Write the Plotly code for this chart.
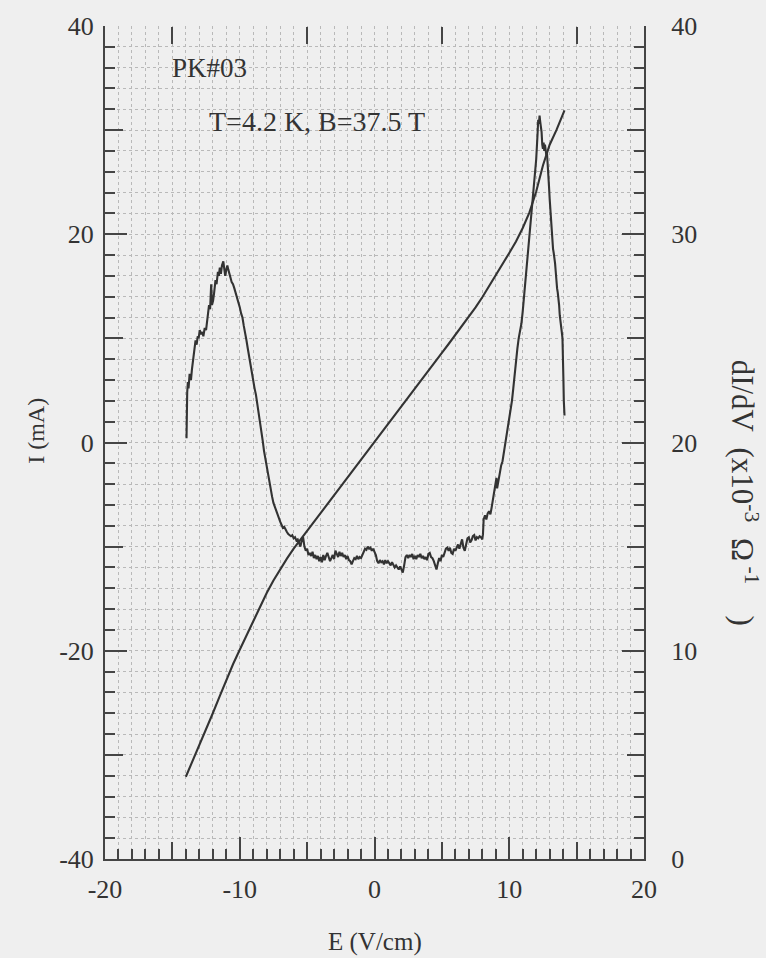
import plotly.graph_objects as go

# ---- I-V characteristic (left axis, mA) ----
E_iv = [-14.0, -13.5, -13.0, -12.5, -12.0, -11.5, -11.0, -10.5, -10.0, -9.5,
        -9.0, -8.5, -8.0, -7.5, -7.0, -6.5, -6.0, -5.5, -5.0, -4.5,
        -4.0, -3.5, -3.0, -2.5, -2.0, -1.5, -1.0, -0.5, 0.0, 0.5,
        1.0, 1.5, 2.0, 2.5, 3.0, 3.5, 4.0, 4.5, 5.0, 5.5,
        6.0, 6.5, 7.0, 7.5, 8.0, 8.5, 9.0, 9.5, 10.0, 10.5,
        11.0, 11.5, 12.0, 12.5, 13.0, 13.5, 14.0, 14.1]
I_mA = [-32.1, -30.6, -29.1, -27.6, -26.0, -24.4, -22.8, -21.3, -19.9, -18.5,
        -17.15, -15.75, -14.45, -13.25, -12.15, -11.15, -10.2, -9.35, -8.5, -7.65,
        -6.8, -5.95, -5.1, -4.25, -3.4, -2.55, -1.7, -0.85, 0.0, 0.86,
        1.72, 2.58, 3.44, 4.3, 5.16, 6.02, 6.88, 7.74, 8.6, 9.46,
        10.32, 11.18, 12.05, 12.97, 13.95, 14.98, 16.02, 17.1, 18.2, 19.3,
        20.6, 22.1, 24.1, 26.6, 28.6, 30.0, 31.5, 31.9]

# ---- differential conductance dI/dV (right axis, 1e-3 / Ohm) ----
E_g = [-13.95, -13.93, -13.9, -13.85, -13.8, -13.72, -13.62, -13.55, -13.45, -13.35,
       -13.28, -13.2, -13.12, -13.05, -12.97, -12.88, -12.78, -12.7, -12.6, -12.5,
       -12.42, -12.35, -12.28, -12.2, -12.12, -12.06, -11.98, -11.9, -11.8, -11.72,
       -11.62, -11.55, -11.48, -11.4, -11.32, -11.22, -11.15, -11.08, -11.0, -10.92,
       -10.85, -10.76, -10.68, -10.6, -10.5, -10.4, -10.3, -10.2, -10.1, -10.0,
       -9.9, -9.8, -9.7, -9.6, -9.5, -9.4, -9.3, -9.2, -9.1, -9.0,
       -8.9, -8.8, -8.7, -8.6, -8.5, -8.4, -8.3, -8.2, -8.1, -8.0,
       -7.9, -7.8, -7.7, -7.6, -7.5, -7.4, -7.3, -7.2, -7.1, -7.0,
       -6.9, -6.8, -6.7, -6.6, -6.5, -6.4, -6.3, -6.2, -6.1, -6.0,
       -5.9, -5.8, -5.7, -5.6, -5.5, -5.4, -5.3, -5.2, -5.1, -5.0,
       -4.9, -4.8, -4.7, -4.6, -4.5, -4.4, -4.3, -4.2, -4.1, -4.0,
       -3.9, -3.8, -3.7, -3.6, -3.5, -3.4, -3.3, -3.2, -3.1, -3.0,
       -2.9, -2.8, -2.7, -2.6, -2.5, -2.4, -2.3, -2.2, -2.1, -2.0,
       -1.9, -1.8, -1.7, -1.6, -1.5, -1.4, -1.3, -1.2, -1.1, -1.0,
       -0.9, -0.8, -0.7, -0.6, -0.5, -0.4, -0.3, -0.2, -0.1, 0.0,
       0.1, 0.2, 0.3, 0.4, 0.5, 0.6, 0.7, 0.8, 0.9, 1.0,
       1.1, 1.2, 1.3, 1.4, 1.5, 1.6, 1.7, 1.8, 1.9, 2.0,
       2.1, 2.2, 2.3, 2.4, 2.5, 2.6, 2.7, 2.8, 2.9, 3.0,
       3.1, 3.2, 3.3, 3.4, 3.5, 3.6, 3.7, 3.8, 3.9, 4.0,
       4.1, 4.2, 4.3, 4.4, 4.5, 4.6, 4.7, 4.8, 4.9, 5.0,
       5.1, 5.2, 5.3, 5.4, 5.5, 5.6, 5.7, 5.8, 5.9, 6.0,
       6.1, 6.2, 6.3, 6.4, 6.5, 6.6, 6.7, 6.8, 6.9, 7.0,
       7.1, 7.2, 7.3, 7.4, 7.5, 7.6, 7.7, 7.8, 7.9, 8.0,
       8.05, 8.1, 8.2, 8.3, 8.4, 8.5, 8.6, 8.7, 8.8, 8.9,
       9.0, 9.05, 9.1, 9.2, 9.3, 9.4, 9.5, 9.6, 9.7, 9.8,
       9.9, 10.0, 10.1, 10.2, 10.3, 10.4, 10.5, 10.6, 10.7, 10.8,
       10.9, 11.0, 11.1, 11.2, 11.3, 11.4, 11.5, 11.6, 11.7, 11.8,
       11.9, 12.0, 12.1, 12.15, 12.2, 12.25, 12.3, 12.35, 12.4, 12.45,
       12.5, 12.55, 12.6, 12.65, 12.7, 12.75, 12.8, 12.85, 12.9, 12.95,
       13.0, 13.05, 13.1, 13.15, 13.2, 13.25, 13.3, 13.35, 13.4, 13.45,
       13.5, 13.55, 13.6, 13.65, 13.7, 13.75, 13.8, 13.85, 13.9, 13.95,
       14.0, 14.02, 14.05, 14.1]
G = [20.2, 21.5, 22.4, 22.9, 22.6, 23.3, 23.0, 23.5, 24.1, 24.6,
     24.9, 24.7, 25.1, 25.0, 25.4, 25.2, 25.3, 25.1, 25.5, 25.4,
     25.9, 26.1, 26.6, 26.4, 27.6, 26.6, 26.8, 27.2, 27.8, 27.6,
     28.2, 28.0, 28.4, 28.1, 28.5, 28.7, 28.2, 28.0, 28.3, 28.5,
     28.3, 28.0, 27.9, 27.7, 27.6, 27.4, 27.2, 26.9, 26.7, 26.5,
     26.2, 26.0, 25.6, 25.3, 24.9, 24.5, 24.1, 23.6, 23.3, 22.9,
     22.6, 22.3, 21.9, 21.5, 21.0, 20.6, 20.1, 19.6, 19.2, 18.8,
     18.4, 18.1, 17.7, 17.4, 17.1, 16.9, 16.7, 16.5, 16.3, 16.2,
     16.05, 15.9, 15.95, 15.8, 15.7, 15.6, 15.55, 15.5, 15.55, 15.4,
     15.45, 15.3, 15.35, 15.2, 15.0, 15.3, 15.45, 15.0, 14.8, 14.9,
     14.6, 14.7, 14.55, 14.75, 14.45, 14.6, 14.4, 14.55, 14.3, 14.5,
     14.25, 14.6, 14.35, 14.55, 14.7, 14.5, 14.3, 14.45, 14.6, 14.4,
     14.8, 14.65, 14.5, 14.75, 14.55, 14.7, 14.5, 14.6, 14.4, 14.55,
     14.35, 14.3, 14.15, 14.3, 14.45, 14.4, 14.55, 14.4, 14.5, 14.45,
     14.6, 14.75, 14.9, 14.85, 15.0, 14.9, 14.95, 14.8, 14.9, 14.75,
     14.6, 14.3, 14.2, 14.35, 14.25, 14.3, 14.15, 14.35, 14.2, 14.3,
     14.2, 14.1, 14.25, 14.15, 14.0, 14.1, 14.0, 13.9, 14.05, 13.9,
     13.75, 14.1, 14.5, 14.6, 14.45, 14.6, 14.5, 14.65, 14.4, 14.55,
     14.4, 14.6, 14.5, 14.65, 14.45, 14.55, 14.4, 14.5, 14.35, 14.65,
     14.7, 14.5, 14.45, 14.3, 14.1, 13.9, 14.2, 14.45, 14.3, 14.6,
     14.5, 14.75, 14.9, 14.95, 14.8, 14.95, 14.7, 14.65, 14.9, 14.8,
     14.95, 15.1, 14.9, 15.2, 15.35, 14.95, 14.8, 15.1, 15.4, 15.45,
     15.2, 15.3, 15.5, 15.55, 15.3, 15.45, 15.4, 15.5, 15.45, 15.35,
     15.6, 16.3, 16.5, 16.3, 16.6, 16.7, 16.55, 16.9, 17.3, 17.6,
     17.9, 18.3, 17.8, 18.2, 18.5, 18.9, 19.1, 19.5, 19.9, 20.3,
     20.8, 21.2, 21.5, 22.0, 22.6, 23.3, 23.9, 24.5, 25.0, 25.3,
     25.7, 26.3, 27.0, 27.7, 28.5, 29.1, 29.7, 30.6, 31.3, 32.0,
     32.8, 33.6, 34.8, 35.5, 35.3, 35.7, 35.4, 35.2, 34.9, 34.3,
     34.1, 34.4, 34.0, 34.3, 34.0, 33.8, 33.9, 33.5, 33.0, 32.3,
     31.7, 31.2, 30.6, 30.0, 29.6, 29.3, 29.1, 28.9, 28.6, 28.2,
     27.5, 27.4, 27.2, 27.0, 26.6, 26.1, 25.9, 25.6, 25.3, 25.0,
     24.2, 23.0, 22.0, 21.3]

# ---- axis ticks ----
x_major = [-20, -10, 0, 10, 20]
x_major_text = ["-20", "-10", "0", "10", "20"]
x_mid = [-15, -5, 5, 15]
yl_major = [-40, -20, 0, 20, 40]
yl_major_text = ["-40", "-20", "0", "20", "40"]
yl_mid = [-30, -10, 10, 30]
yr_major = [0, 10, 20, 30, 40]
yr_major_text = ["0", "10", "20", "30", "40"]
yr_mid = [5, 15, 25, 35]

FONT = "Liberation Serif, Times New Roman, serif"
INK = "#333333"
FRAME = "#454545"
GRID = "#b9b9b9"
BG = "#efefef"

fig = go.Figure()
fig.add_trace(go.Scatter(x=E_iv, y=I_mA, mode="lines", xaxis="x", yaxis="y",
                         line=dict(color=INK, width=2.1), showlegend=False))
fig.add_trace(go.Scatter(x=E_g, y=G, mode="lines", xaxis="x", yaxis="y2",
                         line=dict(color=INK, width=2.1), showlegend=False))
# empty traces that carry the extra tick-only axes
fig.add_trace(go.Scatter(x=[None], y=[None], xaxis="x3", yaxis="y3",
                         showlegend=False, hoverinfo="skip"))
fig.add_trace(go.Scatter(x=[None], y=[None], xaxis="x4", yaxis="y4",
                         showlegend=False, hoverinfo="skip"))

tickfont = dict(family=FONT, size=26, color=INK)
common = dict(showline=True, linecolor=FRAME, linewidth=2, ticks="inside",
              tickcolor=FRAME, tickwidth=2, zeroline=False)
blank = dict(showline=False, showgrid=False, zeroline=False, ticks="inside",
             tickcolor=FRAME, tickwidth=2, showticklabels=False, ticklen=17)

fig.update_layout(
    width=766, height=958,
    margin=dict(l=105, r=122, t=24, b=99),
    paper_bgcolor=BG, plot_bgcolor=BG,
    font=dict(family=FONT, color=INK),
    xaxis=dict(range=[-20, 20], tickmode="array", tickvals=x_major,
               ticktext=x_major_text, ticklen=22, side="bottom",
               anchor="y", tickfont=tickfont, ticklabelstandoff=6,
               showgrid=True, gridcolor=GRID, griddash="dot", gridwidth=1,
               minor=dict(dtick=1, tick0=0, ticklen=10, ticks="inside",
                          tickcolor=FRAME, tickwidth=1.5, showgrid=True,
                          gridcolor=GRID, griddash="dot", gridwidth=1),
               **common),
    xaxis2=dict(range=[-20, 20], overlaying="x", side="top", anchor="y",
                tickvals=x_major, ticklen=22, showticklabels=False,
                showgrid=False,
                minor=dict(dtick=1, tick0=0, ticklen=10, ticks="inside",
                           tickcolor=FRAME, tickwidth=1.5, showgrid=False),
                **common),
    xaxis3=dict(range=[-20, 20], overlaying="x", side="bottom",
                anchor="free", position=0, tickvals=x_mid, **blank),
    xaxis4=dict(range=[-20, 20], overlaying="x", side="top",
                anchor="free", position=1, tickvals=x_mid, **blank),
    yaxis=dict(range=[-40, 40], tickmode="array", tickvals=yl_major,
               ticktext=yl_major_text, ticklen=22, side="left",
               anchor="x", tickfont=tickfont, ticklabelstandoff=4,
               showgrid=True, gridcolor=GRID, griddash="dot", gridwidth=1,
               minor=dict(dtick=2, tick0=0, ticklen=10, ticks="inside",
                          tickcolor=FRAME, tickwidth=1.5, showgrid=True,
                          gridcolor=GRID, griddash="dot", gridwidth=1),
               **common),
    yaxis2=dict(range=[0, 40], tickmode="array", tickvals=yr_major,
                ticktext=yr_major_text, ticklen=22, side="right",
                overlaying="y", anchor="x", tickfont=tickfont,
                ticklabelstandoff=20, showgrid=False,
                minor=dict(dtick=1, tick0=0, ticklen=10, ticks="inside",
                           tickcolor=FRAME, tickwidth=1.5, showgrid=False),
                **common),
    yaxis3=dict(range=[-40, 40], overlaying="y", side="left",
                anchor="free", position=0, tickvals=yl_mid, **blank),
    yaxis4=dict(range=[0, 40], overlaying="y", side="right",
                anchor="free", position=1, tickvals=yr_mid, **blank),
)

# axis titles and sample labels
fig.add_annotation(text="E (V/cm)", xref="paper", yref="paper",
                   x=0.5, y=-0.1, xanchor="center", yanchor="middle",
                   showarrow=False, font=dict(family=FONT, size=25, color=INK))
fig.add_annotation(text="I (mA)", xref="paper", yref="paper",
                   x=-0.128, y=0.514, textangle=-90, xanchor="center",
                   yanchor="middle", showarrow=False,
                   font=dict(family=FONT, size=24, color=INK))
fig.add_annotation(text="dI/dV\u00a0 (x10<sup>-3</sup>\u00a0 Ω<sup>\u00a0-1</sup>\u00a0\u00a0\u00a0 )",
                   xref="paper", yref="paper", x=1.187, y=0.44, textangle=90,
                   xanchor="center", yanchor="middle", showarrow=False,
                   font=dict(family=FONT, size=31, color=INK))
fig.add_annotation(text="PK#03", x=-15.2, y=36.0, xref="x", yref="y",
                   xanchor="left", yanchor="middle", showarrow=False,
                   font=dict(family=FONT, size=27, color=INK))
fig.add_annotation(text="T=4.2 K, B=37.5 T", x=-12.4, y=30.8, xref="x",
                   yref="y", xanchor="left", yanchor="middle",
                   showarrow=False, font=dict(family=FONT, size=28, color=INK))

fig.write_html("out.html")
